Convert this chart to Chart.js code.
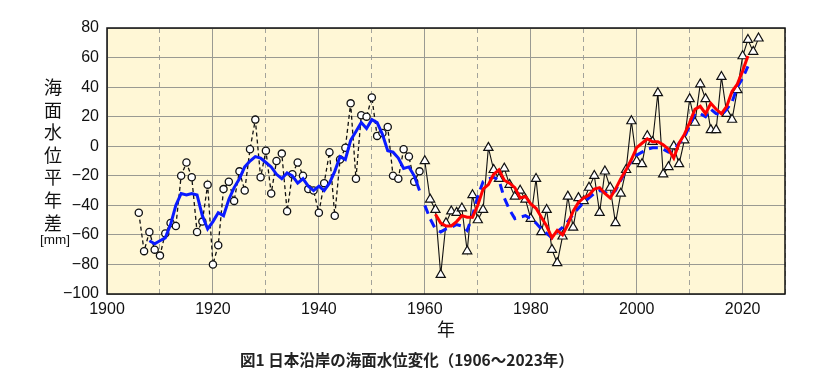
<!DOCTYPE html>
<html><head><meta charset="utf-8">
<script src="https://cdn.jsdelivr.net/npm/chart.js@4.4.1/dist/chart.umd.min.js"></script>
<style>
body{margin:0;background:#fff;}
#wrap{position:relative;width:838px;height:372px;}
#ytitle{position:absolute;left:41px;top:75px;width:24px;font-size:18px;font-family:"Noto Sans CJK JP";line-height:22.6px;text-align:center;color:#111;}
#yunit{position:absolute;left:34px;top:232px;width:42px;text-align:center;font-size:13.5px;font-family:"Liberation Sans";line-height:16px;color:#111}
#caption{position:absolute;left:240px;top:349px;font-weight:bold;font-size:15.5px;font-family:"Noto Sans CJK JP";line-height:20px;color:#222;white-space:nowrap}
</style></head><body>
<div id="wrap"><canvas id="c" width="838" height="372"></canvas>
<div id="ytitle">海<br>面<br>水<br>位<br>平<br>年<br>差</div>
<div id="yunit">[mm]</div>
<div id="caption">図1 日本沿岸の海面水位変化（1906～2023年）</div>
</div>
<script>
// 1906-1959 annual values (circles)
const circleYears = [1906,1907,1908,1909,1910,1911,1912,1913,1914,1915,1916,1917,1918,1919,1920,1921,1922,1923,1924,1925,1926,1927,1928,1929,1930,1931,1932,1933,1934,1935,1936,1937,1938,1939,1940,1941,1942,1943,1944,1945,1946,1947,1948,1949,1950,1951,1952,1953,1954,1955,1956,1957,1958,1959];
const circleValues = [-45,-71,-58,-70,-74,-59,-52,-54,-20,-11,-21,-58,-51,-26,-80,-67,-29,-24,-37,-17,-30,-2,18,-21,-3,-32,-10,-5,-44,-19,-11,-20,-29,-30,-45,-25,-4,-47,-9,-1,29,-22,21,20,33,7,9,13,-20,-22,-2,-7,-24,-17];

// 1960-2023 annual values (triangles)
const triYears = [1960,1961,1962,1963,1964,1965,1966,1967,1968,1969,1970,1971,1972,1973,1974,1975,1976,1977,1978,1979,1980,1981,1982,1983,1984,1985,1986,1987,1988,1989,1990,1991,1992,1993,1994,1995,1996,1997,1998,1999,2000,2001,2002,2003,2004,2005,2006,2007,2008,2009,2010,2011,2012,2013,2014,2015,2016,2017,2018,2019,2020,2021,2022,2023];
const triValues = [-10,-36,-43,-87,-52,-44,-45,-42,-71,-33,-50,-43,-1,-16,-22,-15,-26,-34,-30,-36,-49,-22,-58,-43,-70,-79,-61,-34,-55,-35,-37,-28,-20,-45,-17,-28,-52,-32,-16,17,-10,-12,7,3,36,-19,-14,0,-12,4,32,16,42,32,11,11,47,22,18,38,61,72,64,73];

// 5-year running mean, blue solid (1908-1959)
const blueYears = [1908,1909,1910,1911,1912,1913,1914,1915,1916,1917,1918,1919,1920,1921,1922,1923,1924,1925,1926,1927,1928,1929,1930,1931,1932,1933,1934,1935,1936,1937,1938,1939,1940,1941,1942,1943,1944,1945,1946,1947,1948,1949,1950,1951,1952,1953,1954,1955,1956,1957,1958,1959];
const blueValues = [-64,-66,-64,-62,-53,-40,-32,-33,-32,-33,-47,-56,-51,-45,-47,-36,-28,-22,-14,-10,-7,-8,-11,-14,-19,-22,-18,-20,-25,-22,-27,-30,-27,-30,-25,-17,-7,-9,4,10,16,12,18,16,8,-3,-4,-8,-15,-14,-20,-30];

// blue dashed (1960-2021)
const blueDashYears = [1960,1961,1962,1963,1964,1965,1966,1967,1968,1969,1970,1971,1972,1973,1974,1975,1976,1977,1978,1979,1980,1981,1982,1983,1984,1985,1986,1987,1988,1989,1990,1991,1992,1993,1994,1995,1996,1997,1998,1999,2000,2001,2002,2003,2004,2005,2006,2007,2008,2009,2010,2011,2012,2013,2014,2015,2016,2017,2018,2019,2020,2021];
const blueDashValues = [-40,-49,-56,-58,-56,-55,-53,-54,-57,-47,-34,-24,-22,-21,-23,-35,-43,-49,-48,-47,-49,-52,-56,-59,-62,-58,-55,-51,-46,-42,-38,-35,-32,-30,-31,-33,-30,-23,-16,-10,-6,-4,-2,-1,-1,-2,-4,-3,2,6,14,22,22,20,25,22,21,25,30,40,46,54];

// red running mean (1962-2021)
const redYears = [1962,1963,1964,1965,1966,1967,1968,1969,1970,1971,1972,1973,1974,1975,1976,1977,1978,1979,1980,1981,1982,1983,1984,1985,1986,1987,1988,1989,1990,1991,1992,1993,1994,1995,1996,1997,1998,1999,2000,2001,2002,2003,2004,2005,2006,2007,2008,2009,2010,2011,2012,2013,2014,2015,2016,2017,2018,2019,2020,2021];
const redValues = [-46,-52,-54,-54,-51,-47,-48,-48,-40,-29,-26,-19,-16,-23,-25,-28,-35,-34,-39,-42,-48,-54,-62,-57,-60,-53,-44,-38,-35,-33,-29,-28,-32,-35,-29,-22,-16,-9,-1,2,5,3,3,1,-2,-8,2,8,16,25,27,22,29,25,22,27,37,42,51,61];

const xTickLabels = [1900,1920,1940,1960,1980,2000,2020];
const yTickValues = [-100,-80,-60,-40,-20,0,20,40,60,80];

function pts(xs, ys){ return xs.map((x,i)=>({x:x, y:ys[i]})); }

const framePlugin = {
  id:'frame',
  beforeDraw(chart){
    const {ctx, chartArea:a} = chart;
    ctx.save(); ctx.fillStyle = '#fff7d6';
    ctx.fillRect(a.left, a.top, a.right-a.left, a.bottom-a.top); ctx.restore();
  },
  afterDraw(chart){
    const {ctx, chartArea:a} = chart;
    ctx.save(); ctx.strokeStyle = '#111'; ctx.lineWidth = 1.5;
    ctx.strokeRect(a.left, a.top, a.right-a.left, a.bottom-a.top); ctx.restore();
  }
};

const tickFont = {family:'"Liberation Sans", Arial, sans-serif', size:16};

new Chart(document.getElementById('c'), {
  type:'line',
  data:{ datasets:[
    {data:pts(redYears, redValues), borderColor:'#ff0000', borderWidth:3, pointRadius:0, tension:0, fill:false},
    {data:pts(blueDashYears, blueDashValues), borderColor:'#0a1aff', borderWidth:3, borderDash:[9,6], pointRadius:0, tension:0, fill:false},
    {data:pts(blueYears, blueValues), borderColor:'#0a1aff', borderWidth:3, pointRadius:0, tension:0, fill:false},
    {data:pts(triYears, triValues), borderColor:'#111', borderWidth:1.1, pointStyle:'triangle', pointRadius:5.3, pointBackgroundColor:'#fff', pointBorderColor:'#111', pointBorderWidth:1.2, tension:0, fill:false},
    {data:pts(circleYears, circleValues), borderColor:'#111', borderWidth:1.3, borderDash:[4,3], pointStyle:'circle', pointRadius:3.6, pointBackgroundColor:'#fff', pointBorderColor:'#111', pointBorderWidth:1.3, tension:0, fill:false}
  ]},
  options:{
    responsive:false, animation:false, devicePixelRatio:1,
    layout:{padding:{top:28, right:53, bottom:32, left:0}},
    plugins:{legend:{display:false}, tooltip:{enabled:false}},
    scales:{
      x:{type:'linear', position:'bottom', min:1900, max:2028,
        afterFit(s){ s.height = 46; },
        afterBuildTicks(s){ s.ticks = xTickLabels.map(v=>({value:v})); },
        ticks:{font:tickFont, color:'#111', padding:6, maxRotation:0, callback:(v)=>String(v)},
        grid:{color:'#9a9a92', lineWidth:1, drawTicks:false},
        border:{display:false},
        title:{display:true, text:'年', font:{family:'"Noto Sans CJK JP"', size:18}, color:'#111', padding:{top:0,bottom:0}}
      },
      x2:{type:'linear', position:'top', min:1900, max:2028,
        afterFit(s){ s.height = 0; },
        ticks:{display:false, stepSize:10},
        grid:{drawTicks:false, lineWidth:1, color:(c)=> (c.tick && Math.round(c.tick.value)%20!==0) ? '#a3a39b' : 'rgba(0,0,0,0)'},
        border:{display:false, dash:[5,4]}
      },
      y:{type:'linear', min:-100, max:80,
        afterFit(s){ s.width = 107; },
        afterBuildTicks(s){ s.ticks = yTickValues.map(v=>({value:v})); },
        ticks:{font:tickFont, color:'#111', padding:8, callback:(v)=> (v<0 ? '\u2212'+Math.abs(v) : String(v))},
        grid:{color:'#9a9a92', lineWidth:1, drawTicks:false},
        border:{display:false}
      }
    }
  },
  plugins:[framePlugin]
});
</script>
</body></html>
